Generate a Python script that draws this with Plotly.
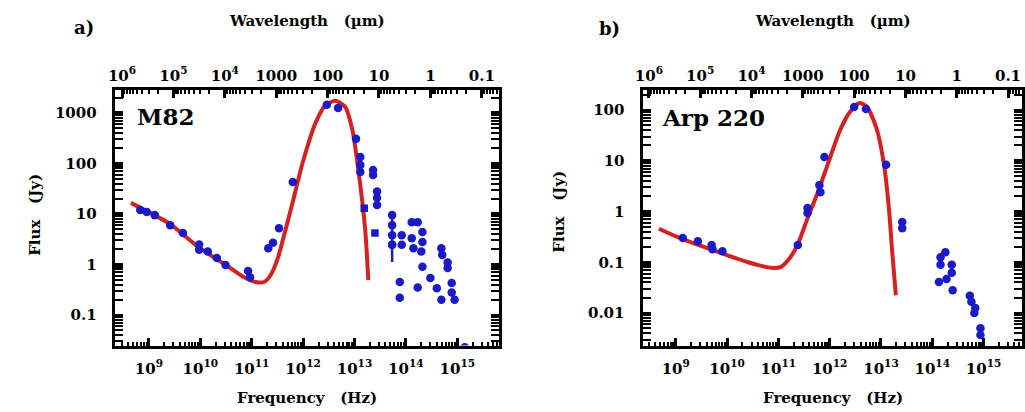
import plotly.graph_objects as go

# ---------------- data ----------------
# Panel a) M82
m82_curve_nu = [4.47e8, 2.6e9, 9.5e9, 3.1e10, 7.08e10, 1.20e11, 1.74e11, 2.34e11, 3.24e11,
                4.27e11, 6.31e11, 9.77e11, 1.74e12, 2.75e12, 4.27e12,
                6.61e12, 9.12e12, 1.17e13, 1.62e13, 1.86e13]
m82_curve_flux = [16.6, 6.3, 2.15, 0.99, 0.56, 0.45, 0.45, 0.62, 1.35,
                  3.8, 17.4, 102, 631, 1445, 1738,
                  1318, 457, 85, 4.8, 0.49]

m82_nu = [6.8e8, 9.1e8, 1.3e9, 2.6e9, 4.6e9, 9.5e9, 9.5e9, 1.4e10, 2.1e10, 3.1e10,
          8.5e10, 9.3e10, 2.1e11, 2.6e11, 3.4e11, 6.3e11, 2.9e12, 4.8e12, 1.07e13,
          1.3e13, 1.3e13, 1.3e13, 2.3e13, 2.3e13, 2.75e13, 2.75e13, 2.75e13,
          5.4e13, 5.4e13, 5.4e13, 5.4e13, 8.3e13, 8.3e13, 7.6e13, 7.6e13,
          1.3e14, 1.7e14, 1.3e14, 1.4e14, 2.1e14, 2.1e14, 2.0e14, 2.1e14, 1.7e14,
          3.0e14, 4.0e14, 4.9e14, 4.9e14, 5.1e14, 6.5e14, 6.5e14, 7.8e14, 7.8e14,
          8.9e14, 1.4e15]
m82_flux = [12.0, 11.0, 9.5, 6.0, 4.2, 2.5, 1.95, 1.8, 1.35, 0.98,
            0.74, 0.56, 2.1, 2.7, 5.2, 43, 1450, 1260, 310,
            135, 93, 68, 74, 59, 28, 21, 15,
            9.5, 6.0, 3.8, 2.45, 3.8, 2.45, 0.45, 0.22,
            6.9, 6.9, 3.3, 2.1, 4.4, 2.8, 1.8, 0.9, 0.35,
            0.54, 0.34, 0.20, 2.1, 1.55, 1.1, 0.85, 0.43, 0.28,
            0.20, 0.023]
m82_sq_nu = [1.55e13, 2.5e13]
m82_sq_flux = [13, 4.2]
m82_err_nu = [5.4e13]
m82_err_flux = [2.45]
m82_err_minus = [1.33]
m82_err_plus = [7.05]

# Panel b) Arp 220
arp_curve_nu = [4.68e8, 1.32e9, 7.76e9, 2.57e10, 7.24e10, 1.12e11, 1.66e11, 2.40e11,
                3.72e11, 5.89e11, 9.12e11, 1.55e12, 2.40e12, 3.80e12, 5.37e12,
                8.13e12, 1.15e13, 1.45e13, 1.66e13, 1.95e13]
arp_curve_flux = [0.457, 0.288, 0.151, 0.100, 0.0776, 0.0813, 0.120, 0.229,
                  0.741, 2.40, 8.32, 37.2, 87.1, 138, 115,
                  44.7, 8.32, 0.977, 0.158, 0.0224]

arp_nu = [1.37e9, 2.7e9, 5.0e9, 5.2e9, 8.1e9, 2.4e11, 3.7e11, 3.7e11, 6.3e11, 6.6e11,
          7.9e11, 3.0e12, 5.1e12, 1.26e13, 2.6e13, 2.6e13, 1.45e14, 1.8e14, 1.45e14,
          2.4e14, 2.4e14, 1.35e14, 1.9e14, 2.5e14, 5.4e14, 5.8e14, 6.9e14, 6.6e14,
          8.7e14, 8.7e14]
arp_flux = [0.30, 0.26, 0.22, 0.18, 0.165, 0.22, 0.93, 1.17, 3.3, 2.4,
            11.8, 115, 105, 8.3, 0.62, 0.47, 0.126, 0.158, 0.089,
            0.089, 0.062, 0.041, 0.047, 0.028, 0.022, 0.0166, 0.0126, 0.010,
            0.0050, 0.0037]

# tick labels
freq_tick_exp = [9, 10, 11, 12, 13, 14, 15]
wave_ticks_um = [1e6, 1e5, 1e4, 1000, 100, 10, 1, 0.1]
wave_tick_text = ["10<sup>6</sup>", "10<sup>5</sup>", "10<sup>4</sup>", "1000", "100", "10", "1", "0.1"]
flux_ticks_a = [0.1, 1, 10, 100, 1000]
flux_text_a = ["0.1", "1", "10", "100", "1000"]
flux_ticks_b = [0.01, 0.1, 1, 10, 100]
flux_text_b = ["0.01", "0.1", "1", "10", "100"]

C_UM = 2.998e14  # speed of light in micron*Hz

# ---------------- styling ----------------
FONT = "DejaVu Serif"
RED = "#d42222"
BLUE = "#1a1ac8"
W, H = 1025, 412

fig = go.Figure()


def add_panel(xa, ya, cnu, cfl, pnu, pfl):
    fig.add_trace(go.Scatter(x=cnu, y=cfl, mode="lines", xaxis=xa, yaxis=ya,
                             line=dict(color=RED, width=4, shape="spline", smoothing=0.6),
                             showlegend=False, hoverinfo="skip"))
    fig.add_trace(go.Scatter(x=pnu, y=pfl, mode="markers", xaxis=xa, yaxis=ya,
                             marker=dict(color=BLUE, size=8.5, symbol="circle"),
                             showlegend=False))


add_panel("x", "y", m82_curve_nu, m82_curve_flux, m82_nu, m82_flux)
fig.add_trace(go.Scatter(x=m82_sq_nu, y=m82_sq_flux, mode="markers", xaxis="x", yaxis="y",
                         marker=dict(color=BLUE, size=7.5, symbol="square"), showlegend=False))
fig.add_trace(go.Scatter(x=m82_err_nu, y=m82_err_flux, mode="markers", xaxis="x", yaxis="y",
                         marker=dict(color=BLUE, size=8.5),
                         error_y=dict(type="data", symmetric=False, array=m82_err_plus,
                                      arrayminus=m82_err_minus, color=BLUE, thickness=2.5, width=0),
                         showlegend=False))
add_panel("x2", "y2", arp_curve_nu, arp_curve_flux, arp_nu, arp_flux)

# empty traces so that the top (wavelength) axes get drawn
fig.add_trace(go.Scatter(x=[], y=[], xaxis="x3", yaxis="y", showlegend=False))
fig.add_trace(go.Scatter(x=[], y=[], xaxis="x4", yaxis="y2", showlegend=False))


def minor_vals(lo, hi):
    return [m * 10 ** e for e in range(lo, hi) for m in range(2, 10)]


freq_vals = [10 ** e for e in freq_tick_exp]
freq_text = ["10<sup>%d</sup>" % e for e in freq_tick_exp]
wave_vals = [C_UM / w for w in wave_ticks_um]
wave_minor = [C_UM / (m * 10 ** e) for e in range(-2, 7) for m in range(2, 10)]

tickfont = dict(family=FONT, size=15, color="black", weight="bold")
common = dict(type="log", showgrid=False, zeroline=False, showline=True, linecolor="black",
              linewidth=3, ticks="inside", tickcolor="black", tickwidth=2.5, ticklen=8,
              tickfont=tickfont)
minor_cfg = dict(ticks="inside", ticklen=4, tickwidth=2, tickcolor="black", tickmode="array")

xd_a = [107.5 / W, 494.5 / W]
xd_b = [639.5 / W, 1022 / W]
yd = [1 - 345.5 / H, 1 - 89.5 / H]
xr_a = [8.334, 15.805]
xr_b = [8.352, 15.75]

fig.update_layout(
    width=W, height=H, autosize=False,
    margin=dict(l=0, r=0, t=0, b=0),
    paper_bgcolor="white", plot_bgcolor="white",
    xaxis=dict(common, domain=xd_a, range=xr_a, anchor="y", mirror=True,
               tickmode="array", tickvals=freq_vals, ticktext=freq_text,
               minor=dict(minor_cfg, tickvals=minor_vals(8, 16)),
               ticklabelstandoff=7),
    yaxis=dict(common, domain=yd, range=[-1.604, 3.465], anchor="x", mirror="allticks",
               tickmode="array", tickvals=flux_ticks_a, ticktext=flux_text_a,
               minor=dict(minor_cfg, tickvals=minor_vals(-2, 4)),
               ticklabelstandoff=12),
    xaxis3=dict(common, domain=xd_a, range=xr_a, anchor="y", overlaying="x", side="top",
                tickmode="array", tickvals=wave_vals, ticktext=wave_tick_text,
                minor=dict(minor_cfg, tickvals=wave_minor),
                ticklabelstandoff=0),
    xaxis2=dict(common, domain=xd_b, range=xr_b, anchor="y2", mirror=True,
                tickmode="array", tickvals=freq_vals, ticktext=freq_text,
                minor=dict(minor_cfg, tickvals=minor_vals(8, 16)),
                ticklabelstandoff=7),
    yaxis2=dict(common, domain=yd, range=[-2.640, 2.404], anchor="x2", mirror="allticks",
                tickmode="array", tickvals=flux_ticks_b, ticktext=flux_text_b,
                minor=dict(minor_cfg, tickvals=minor_vals(-3, 3)),
                ticklabelstandoff=12),
    xaxis4=dict(common, domain=xd_b, range=xr_b, anchor="y2", overlaying="x2", side="top",
                tickmode="array", tickvals=wave_vals, ticktext=wave_tick_text,
                minor=dict(minor_cfg, tickvals=wave_minor),
                ticklabelstandoff=0),
)

NB = "\u00a0\u00a0\u00a0"
ann = []


def px_ann(text, x, y, size=15, angle=0):
    ann.append(dict(text=text, x=x / W, y=1 - y / H, xref="paper", yref="paper",
                    showarrow=False, xanchor="center", yanchor="middle", textangle=angle,
                    font=dict(family=FONT, size=size, color="black", weight="bold")))


px_ann("Wavelength" + NB + "(\u00b5m)", 301, 21)
px_ann("Wavelength" + NB + "(\u00b5m)", 831, 21)
px_ann("Frequency" + NB + "(Hz)", 301, 398)
px_ann("Frequency" + NB + "(Hz)", 831, 398)
px_ann("Flux" + NB + "(Jy)", 27, 215, angle=-90)
px_ann("Flux" + NB + "(Jy)", 555, 212, angle=-90)
px_ann("a)", 77, 28, size=18)
px_ann("b)", 606, 29, size=18)
px_ann("M82", 159, 116, size=23)
px_ann("Arp\u00a0220", 711, 117, size=23)
fig.update_layout(annotations=ann)

fig.write_html("out.html", post_script="document.body.style.margin='0px';",
               config={"displayModeBar": False})
